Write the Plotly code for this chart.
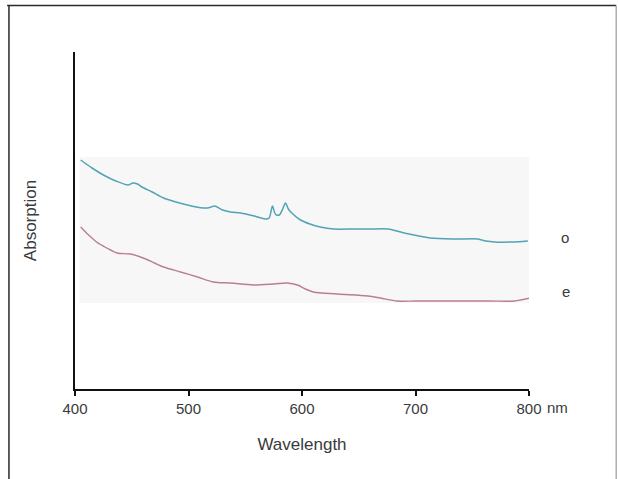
import plotly.graph_objects as go

# ---- data (arbitrary absorption units) ----
o_wavelength = [405, 415, 425, 436, 447, 451, 455, 459, 468, 478, 489, 499, 507, 513, 517, 520, 523, 530,
                537, 546, 558, 568, 571, 574, 576, 577.5, 580, 583, 585.4, 588, 591, 598.7, 607, 616, 628,
                645, 660, 676, 690, 713, 735, 755, 762, 770, 785, 799]
o_absorption = [2.29, 2.21, 2.14, 2.08, 2.04, 2.06, 2.05, 2.02, 1.97, 1.91, 1.87, 1.84, 1.82, 1.81, 1.81,
                1.82, 1.83, 1.79, 1.77, 1.76, 1.73, 1.70, 1.71, 1.83, 1.76, 1.74, 1.74, 1.80, 1.86, 1.80,
                1.76, 1.69, 1.65, 1.62, 1.60, 1.60, 1.60, 1.60, 1.56, 1.51, 1.50, 1.50, 1.48, 1.47, 1.47, 1.48]

e_wavelength = [405, 412, 419, 428, 437, 449, 460, 470, 478, 493, 508, 522, 537, 557, 575, 587, 596,
                603, 610, 631, 658, 669, 684, 700, 720, 745, 766, 787, 801]
e_absorption = [1.62, 1.54, 1.47, 1.41, 1.36, 1.35, 1.31, 1.26, 1.22, 1.17, 1.12, 1.07, 1.06, 1.04, 1.05,
                1.06, 1.04, 1.00, 0.97, 0.95, 0.93, 0.91, 0.88, 0.88, 0.88, 0.88, 0.88, 0.88, 0.91]

x_ticks = [400, 500, 600, 700, 800]
x_ticklabels = ["400", "500", "600", "700", "800"]
series_labels = ["o", "e"]

FONT = "Liberation Sans, Arial, sans-serif"
TXT = "#3a3a3a"

fig = go.Figure()
fig.add_trace(go.Scatter(x=o_wavelength, y=o_absorption, mode="lines",
                         line=dict(color="#52a3b5", width=1.5, shape="spline", smoothing=0.8),
                         hoverinfo="skip", showlegend=False))
fig.add_trace(go.Scatter(x=e_wavelength, y=e_absorption, mode="lines",
                         line=dict(color="#b97f91", width=1.4, shape="spline", smoothing=0.9),
                         hoverinfo="skip", showlegend=False))

# faint shaded panel behind the curves
fig.add_shape(type="rect", xref="x", yref="y", x0=404, x1=804, y0=0.86, y1=2.32,
              fillcolor="#f7f7f7", line=dict(width=0), layer="below")

# outer frame (left, top, right)
frame = dict(color="#2a2a2a", width=1.5)
fig.add_shape(type="line", xref="paper", yref="paper", x0=-0.1455, x1=-0.1455, y0=-0.27, y1=1.138, line=frame)
fig.add_shape(type="line", xref="paper", yref="paper", x0=-0.1495, x1=1.192, y0=1.138, y1=1.138, line=frame)
fig.add_shape(type="line", xref="paper", yref="paper", x0=1.192, x1=1.192, y0=-0.27, y1=1.138,
              line=dict(color="#9a9a9a", width=1.2))

# series labels
fig.add_annotation(x=1.066, y=0.451, xref="paper", yref="paper", text=series_labels[0], showarrow=False,
                   xanchor="left", font=dict(family=FONT, size=15, color=TXT))
fig.add_annotation(x=1.069, y=0.258, xref="paper", yref="paper", text=series_labels[1], showarrow=False,
                   xanchor="left", font=dict(family=FONT, size=15, color=TXT))
# unit after last tick
fig.add_annotation(x=1.0, y=0, xref="paper", yref="paper", text="nm", showarrow=False,
                   xanchor="left", yanchor="top", xshift=16, yshift=-8,
                   font=dict(family=FONT, size=15, color=TXT))

fig.update_layout(
    width=618, height=479,
    margin=dict(l=75, r=89, t=52, b=90),
    paper_bgcolor="white", plot_bgcolor="white",
    font=dict(family=FONT, color=TXT),
    xaxis=dict(range=[400, 800], tickvals=x_ticks, ticktext=x_ticklabels,
               showline=True, linecolor="#111", linewidth=2, mirror=False,
               ticks="outside", ticklen=5, tickwidth=1.5, tickcolor="#111",
               showgrid=False, zeroline=False,
               tickfont=dict(family=FONT, size=15, color=TXT),
               title=dict(text="Wavelength", font=dict(family=FONT, size=17, color=TXT), standoff=22)),
    yaxis=dict(range=[0, 3.37], showline=True, linecolor="#111", linewidth=2,
               showticklabels=False, ticks="", showgrid=False, zeroline=False,
               title=dict(text="Absorption", font=dict(family=FONT, size=17, color=TXT), standoff=32)),
)

fig.write_html("out.html", config={"displayModeBar": False},
               post_script="document.body.style.margin='0';document.body.style.overflow='hidden';")
